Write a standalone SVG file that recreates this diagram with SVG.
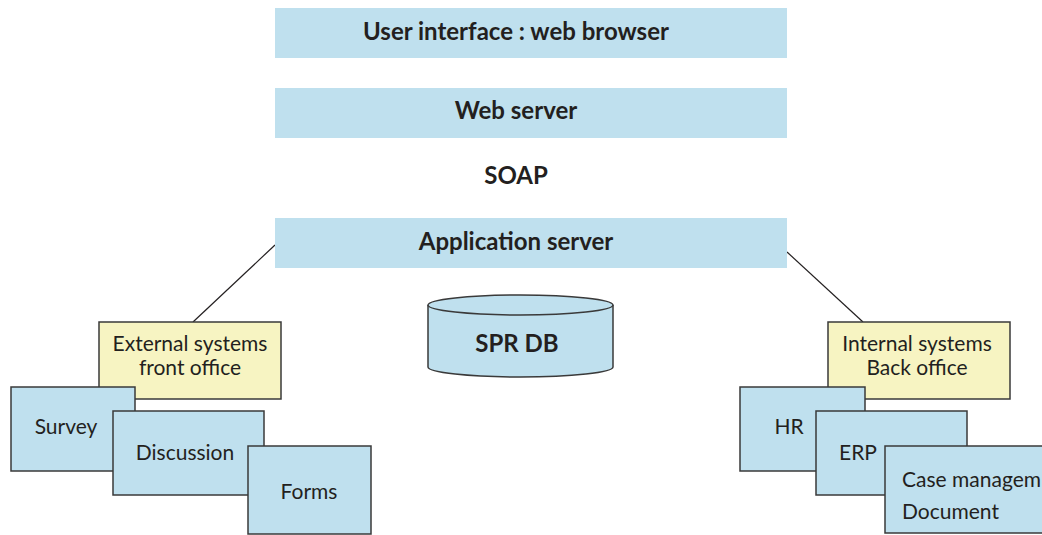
<svg xmlns="http://www.w3.org/2000/svg" width="1042" height="535" viewBox="0 0 1042 535">
<style>
.bar{fill:#bfe0ee}
.box{fill:#bfe0ee;stroke:#3a3a3a;stroke-width:1.5}
.ybox{fill:#f7f4c2;stroke:#3a3a3a;stroke-width:1.5}
.b{font-family:Lato,"Open Sans",sans-serif;font-weight:bold;font-size:24px;fill:#231f20;text-anchor:middle}
.r{font-family:Lato,"Open Sans",sans-serif;font-size:21px;fill:#231f20;text-anchor:middle}
.rl{font-family:Lato,"Open Sans",sans-serif;font-size:21px;fill:#231f20}
.ln{stroke:#231f20;stroke-width:1.2;fill:none}
</style>
<rect width="1042" height="535" fill="#ffffff"/>
<g id="connectors">
<line class="ln" x1="275" y1="245" x2="193" y2="322"/>
<line class="ln" x1="787" y1="252" x2="863" y2="322"/>
</g>
<g id="ui">
<rect class="bar" x="275" y="8" width="512" height="50"/>
<text class="b" x="516" y="40">User interface : web browser</text>
</g>
<g id="webserver">
<rect class="bar" x="275" y="88" width="512" height="50"/>
<text class="b" x="516" y="119">Web server</text>
</g>
<g id="soap">
<text class="b" x="516" y="184">SOAP</text>
</g>
<g id="appserver">
<rect class="bar" x="275" y="218" width="512" height="50"/>
<text class="b" x="516" y="250">Application server</text>
</g>
<g id="sprdb">
<path class="box" d="M428,305 L428,367 A92.5,10 0 0 0 613,367 L613,305"/>
<ellipse class="box" cx="520.5" cy="305" rx="92.5" ry="10"/>
<text class="b" x="517" y="352">SPR DB</text>
</g>
<g id="external">
<rect class="ybox" x="99" y="322" width="182" height="77"/>
<text class="r" x="190" y="351">External systems</text>
<text class="r" x="190" y="375">front office</text>
</g>
<g id="survey">
<rect class="box" x="11" y="387" width="124" height="84"/>
<text class="r" x="66" y="434">Survey</text>
</g>
<g id="discussion">
<rect class="box" x="113" y="411" width="151" height="84"/>
<text class="r" x="185" y="460">Discussion</text>
</g>
<g id="forms">
<rect class="box" x="248" y="446" width="123" height="88"/>
<text class="r" x="309" y="499">Forms</text>
</g>
<g id="internal">
<rect class="ybox" x="828" y="322" width="182" height="77"/>
<text class="r" x="917" y="351">Internal systems</text>
<text class="r" x="917" y="375">Back office</text>
</g>
<g id="hr">
<rect class="box" x="740" y="387" width="125" height="84"/>
<text class="r" x="789" y="434">HR</text>
</g>
<g id="erp">
<rect class="box" x="816" y="411" width="151" height="84"/>
<text class="r" x="858" y="460">ERP</text>
</g>
<g id="case">
<rect class="box" x="885" y="446" width="170" height="87"/>
<text class="rl" x="902" y="487">Case managem</text>
<text class="rl" x="902" y="519">Document</text>
</g>
</svg>
